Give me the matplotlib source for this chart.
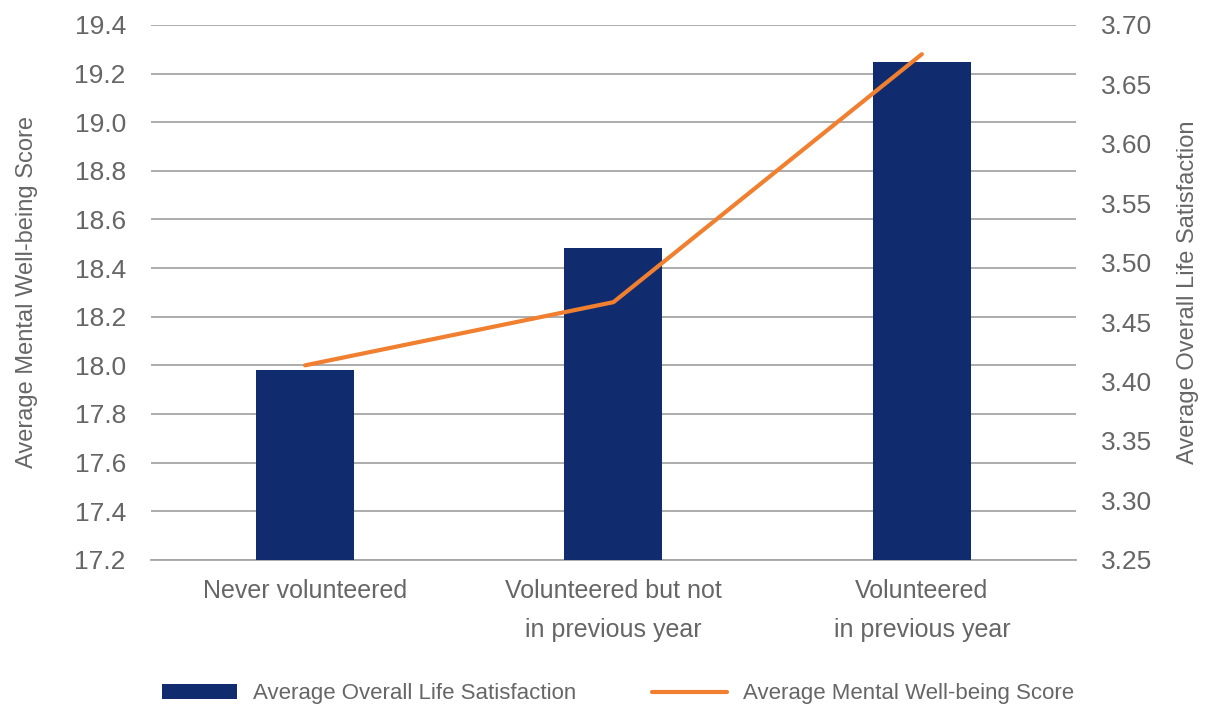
import numpy as np
import matplotlib
matplotlib.use("Agg")
import matplotlib.pyplot as plt
from matplotlib import font_manager

names = {f.name for f in font_manager.fontManager.ttflist}
fam = 'Liberation Sans Narrow' if 'Liberation Sans Narrow' in names else 'Liberation Sans'
plt.rcParams['font.family'] = [fam, 'DejaVu Sans']

categories = ['Never volunteered', 'Volunteered but not\nin previous year',
              'Volunteered\nin previous year']
life_satisfaction = [3.410, 3.512, 3.669]     # bars, right axis
wellbeing = [18.00, 18.26, 19.28]             # line, left axis

left_ticks = np.round(np.arange(17.2, 19.41, 0.2), 1)
right_ticks = np.round(np.arange(3.25, 3.701, 0.05), 2)

grey = '#666666'
navy = '#112B6F'
orange = '#F0802F'

fig = plt.figure(figsize=(12.07, 7.06), dpi=100)
ax = fig.add_axes([0.125, 0.207, 0.7665, 0.7576])
ax2 = ax.twinx()
ax3 = ax.twinx()

x = np.arange(len(categories))

# base axis: grid + left ticks
ax.set_ylim(17.2, 19.4)
ax.set_yticks(left_ticks)
ax.set_yticklabels([f'{v:.1f}' for v in left_ticks])
ax.yaxis.grid(True, color='#A6A6A6', lw=1.3)
ax.set_axisbelow(True)
ax.set_xlim(-0.5, 2.5)
ax.set_xticks(x)
ax.set_xticklabels(categories, linespacing=1.75)
ax.set_ylabel('Average Mental Well-being Score', fontsize=17, color=grey, labelpad=26)

# bars on right axis
ax2.bar(x, life_satisfaction, width=0.318, color=navy, zorder=2,
        label='Average Overall Life Satisfaction')
ax2.set_ylim(3.25, 3.70)
ax2.set_yticks(right_ticks)
ax2.set_yticklabels([f'{v:.2f}' for v in right_ticks])
ax2.set_ylabel('Average Overall Life Satisfaction', fontsize=17, color=grey, labelpad=18)

# line on top, left scale
ax3.plot(x, wellbeing, color=orange, lw=3, solid_capstyle='round',
         label='Average Mental Well-being Score')
ax3.set_ylim(17.2, 19.4)
ax3.set_yticks([])

for a in (ax, ax2, ax3):
    for s in a.spines.values():
        s.set_visible(False)
    a.tick_params(length=0, colors=grey, labelsize=19)
ax.spines['bottom'].set_visible(True)
ax.spines['bottom'].set_color('#A6A6A6')
ax.spines['bottom'].set_linewidth(1.3)
ax.tick_params(axis='x', labelsize=18, pad=14)
ax.tick_params(axis='y', pad=18)
ax2.tick_params(axis='y', pad=18)

h1, l1 = ax2.get_legend_handles_labels()
h2, l2 = ax3.get_legend_handles_labels()
leg = fig.legend(h1 + h2, l1 + l2, loc='lower center', bbox_to_anchor=(0.512, -0.026),
                 ncol=2, frameon=False, fontsize=16, handlelength=3.4,
                 handleheight=0.6, columnspacing=3.4, handletextpad=0.7)
for t in leg.get_texts():
    t.set_color(grey)

fig.savefig('out.png', dpi=100)
